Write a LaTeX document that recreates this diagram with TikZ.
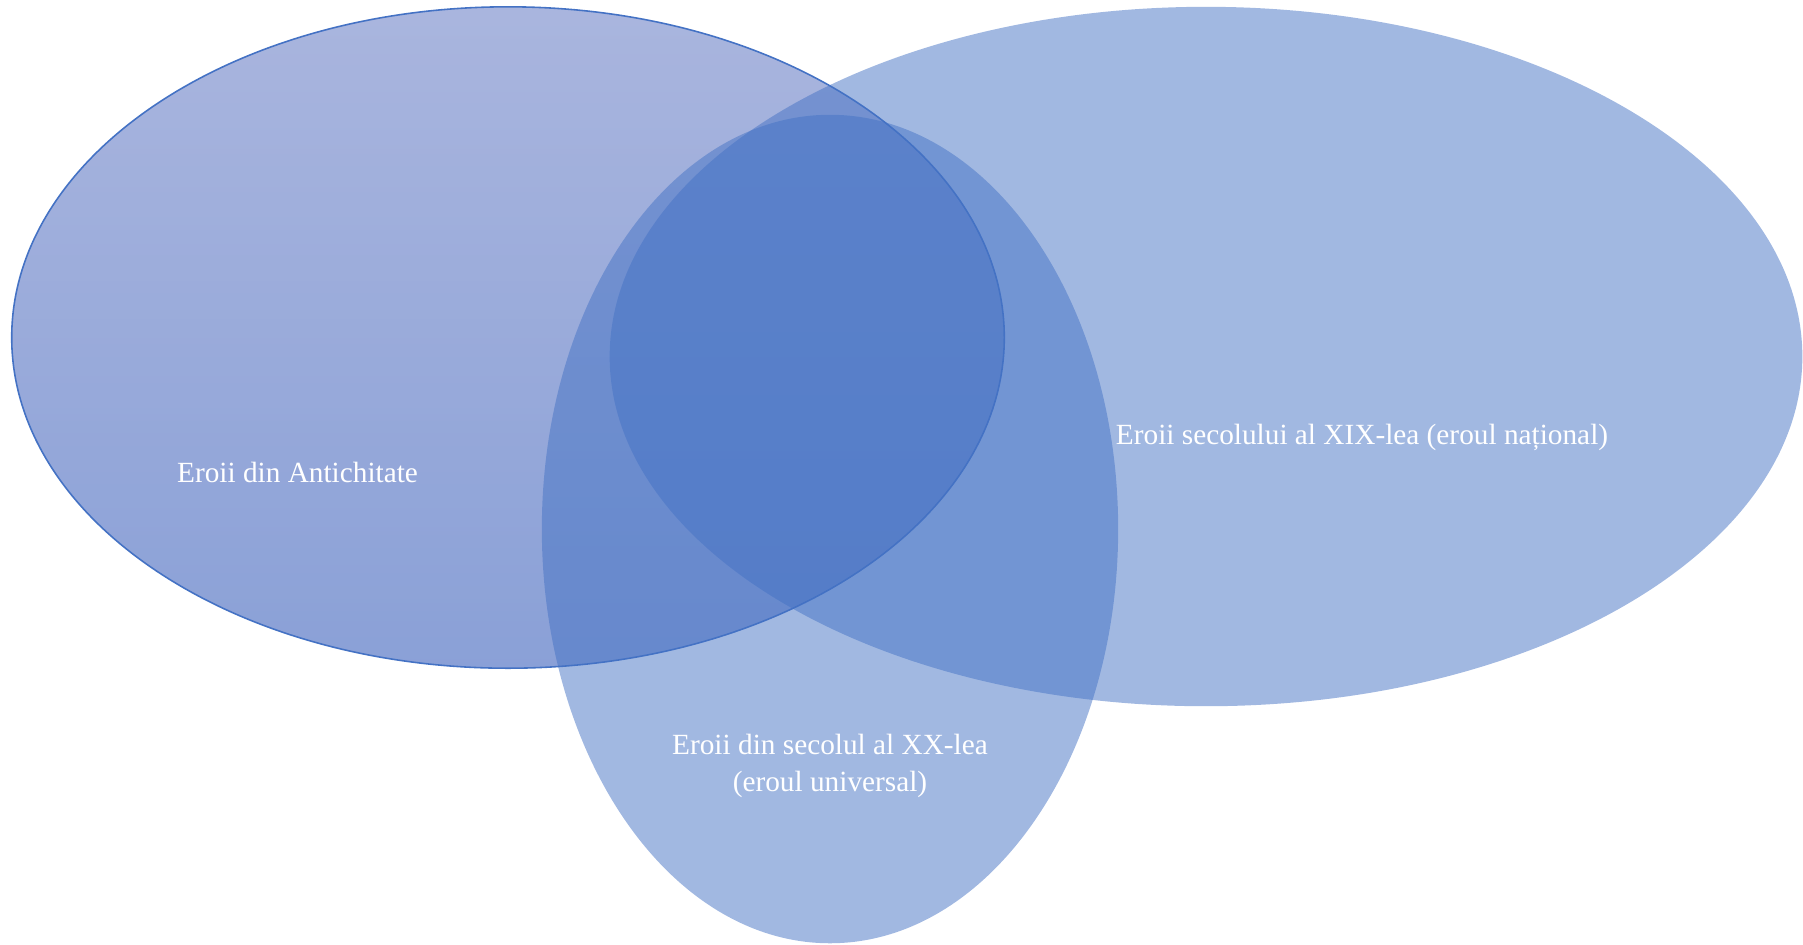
\documentclass[tikz,border=0pt]{standalone}
\usepackage{fontspec}
\setmainfont{Liberation Serif}
\usetikzlibrary{positioning,shapes.geometric}
\definecolor{accblue}{HTML}{4472C4}
\definecolor{antitop}{RGB}{112,132,200}
\definecolor{antibot}{RGB}{60,97,188}
\tikzset{
  era/.style={ellipse, inner sep=0pt, fill=accblue, fill opacity=0.5},
  antic/.style={ellipse, inner sep=0pt, draw=accblue, line width=0.45pt,
    top color=antitop, bottom color=antibot, fill opacity=0.6},
  lab/.style={text=white, align=center, font=\fontsize{8.33}{10.5}\selectfont},
}
\begin{document}
\begin{tikzpicture}[x=0.01cm, y=-0.01cm]
  \useasboundingbox (0,0) rectangle (1803,944);
  % the three circles of heroes
  \node[antic, minimum width=9.92cm, minimum height=6.61cm] (anti) at (508,337.5) {};
  \node[era, minimum width=5.76cm, minimum height=8.28cm] (univ) at (830,529) {};
  \node[era, minimum width=11.92cm, minimum height=6.99cm] (natl) at (1206,356.5) {};
  % labels
  \node[lab] (antilab) at (297.5,472) {Eroii din Antichitate};
  \node[lab] (natllab) at (1362,437) {Eroii secolului al XIX-lea (eroul național)};
  \node[lab] (univlab) at (830,766) {Eroii din secolul al XX-lea\\(eroul universal)};
\end{tikzpicture}
\end{document}
